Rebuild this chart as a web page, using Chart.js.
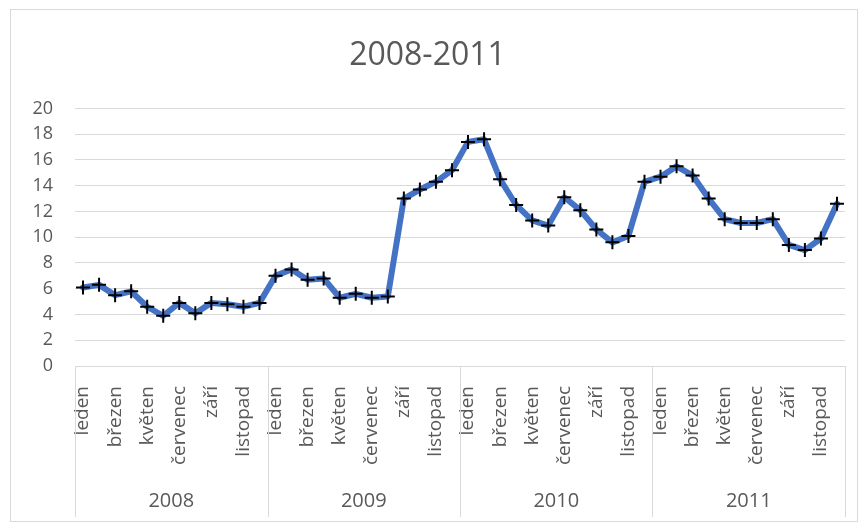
<!DOCTYPE html>
<html>
<head>
<meta charset="utf-8">
<script src="https://cdn.jsdelivr.net/npm/chart.js@4/dist/chart.umd.min.js"></script>
<style>
  html, body { margin: 0; padding: 0; background: #fff; }
  #wrap { position: relative; width: 861px; height: 524px; }
</style>
</head>
<body>
<div id="wrap"><canvas id="chart"></canvas></div>
<script>
const months = ["leden", "únor", "březen", "duben", "květen", "červen", "červenec", "srpen", "září", "říjen", "listopad", "prosinec"];
const years = ["2008", "2009", "2010", "2011"];
const values2008 = [6.1, 6.3, 5.5, 5.8, 4.6, 3.9, 4.9, 4.1, 4.9, 4.8, 4.6, 4.9];
const values2009 = [7.0, 7.5, 6.7, 6.8, 5.3, 5.6, 5.3, 5.4, 13.0, 13.7, 14.3, 15.2];
const values2010 = [17.4, 17.6, 14.5, 12.5, 11.3, 10.9, 13.1, 12.1, 10.6, 9.6, 10.1, 14.3];
const values2011 = [14.7, 15.5, 14.8, 13.0, 11.4, 11.1, 11.1, 11.4, 9.4, 9.0, 9.9, 12.6];
const yTicks = [0, 2, 4, 6, 8, 10, 12, 14, 16, 18, 20];

const FONT = "'Open Sans', 'Noto Sans', sans-serif";
const TEXT = "#595959";
const GRID = "#d9d9d9";

let labels = [];
years.forEach(() => months.forEach(m => labels.push(m)));
let values = [...values2008, ...values2009, ...values2010, ...values2011];

// frame + year row under the month labels
const yearAxis = {
    id: "yearAxis",
    beforeDraw(chart) {
        let c = chart.ctx;
        c.save();
        c.strokeStyle = GRID;
        c.lineWidth = 1;
        c.strokeRect(10.5, 9.5, 847, 512);
        c.restore();
    },
    afterDraw(chart) {
        let c = chart.ctx;
        let x = chart.scales.x;
        let half = (x.getPixelForValue(1) - x.getPixelForValue(0)) / 2;
        let bottom = chart.chartArea.bottom;
        c.save();
        c.strokeStyle = GRID;
        c.lineWidth = 1;
        for (let g = 0; g <= years.length; g++) {
            let px = g < years.length
                ? x.getPixelForValue(g * months.length) - half
                : x.getPixelForValue(labels.length - 1) + half;
            px = Math.round(px) + 0.5;
            c.beginPath();
            c.moveTo(px, bottom);
            c.lineTo(px, 517);
            c.stroke();
        }
        c.fillStyle = TEXT;
        c.font = "20px " + FONT;
        c.textAlign = "center";
        c.textBaseline = "middle";
        years.forEach((y, g) => {
            let a = x.getPixelForValue(g * months.length) - half;
            let b = x.getPixelForValue((g + 1) * months.length - 1) + half;
            c.fillText(y, (a + b) / 2, 501);
        });
        c.restore();
    }
};

new Chart(document.getElementById("chart"), {
    type: "line",
    data: {
        labels: labels,
        datasets: [{
            data: values,
            borderColor: "#4472C4",
            borderWidth: 6,
            borderJoinStyle: "round",
            borderCapStyle: "round",
            pointStyle: "cross",
            pointRadius: 7,
            pointBorderColor: "#000",
            pointBorderWidth: 2,
            pointBackgroundColor: "#000",
            tension: 0
        }]
    },
    options: {
        responsive: true,
        maintainAspectRatio: false,
        animation: false,
        layout: { padding: { left: 10, right: 16, top: 0, bottom: 0 } },
        plugins: {
            legend: { display: false },
            tooltip: { enabled: false },
            title: {
                display: true,
                text: "2008-2011",
                color: TEXT,
                font: { family: FONT, size: 32, weight: "normal" },
                padding: { top: 37, bottom: 33 }
            }
        },
        scales: {
            x: {
                offset: true,
                grid: { display: false, drawTicks: false },
                border: { display: false },
                afterFit: s => {
                    s.height = 158;
                    s.paddingLeft = 0;
                    s.paddingRight = 0;
                },
                ticks: {
                    autoSkip: false,
                    minRotation: 90,
                    maxRotation: 90,
                    padding: 20,
                    color: TEXT,
                    font: { family: FONT, size: 19 },
                    callback: function (v, i) {
                        return i % 2 === 0 ? this.getLabelForValue(v) : "";
                    }
                }
            },
            y: {
                min: yTicks[0],
                max: yTicks[yTicks.length - 1],
                afterBuildTicks: s => { s.ticks = yTicks.map(v => ({ value: v })); },
                afterFit: s => { s.width = 65; },
                grid: { color: GRID, lineWidth: 1, drawTicks: false },
                border: { display: false },
                ticks: {
                    padding: 22,
                    color: TEXT,
                    font: { family: FONT, size: 18 }
                }
            }
        }
    },
    plugins: [yearAxis]
});
</script>
</body>
</html>
